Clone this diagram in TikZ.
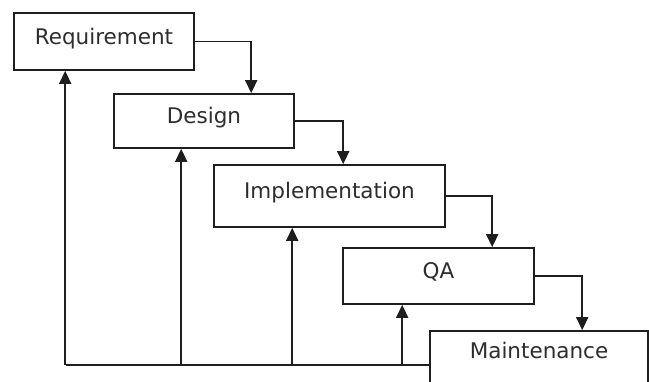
\documentclass[tikz,border=0pt]{standalone}
\usepackage{fontspec}
\setmainfont{DejaVu Sans}
\usetikzlibrary{arrows.meta}
\definecolor{ink}{RGB}{30,30,30}
\definecolor{txt}{RGB}{45,45,45}
\begin{document}
\begin{tikzpicture}[x=1pt,y=-1pt,
  phase/.style={draw=ink, line width=1.6pt, fill=white, inner sep=0pt,
    font=\fontsize{21.5}{24}\selectfont, text=txt, text height=14pt, text depth=8.3pt},
  link/.style={draw=ink, line width=1.6pt},
  arr/.style={link, -{Triangle[width=12pt,length=13pt]}}]
\useasboundingbox (0,0) rectangle (649,382);
\clip (0,0) rectangle (649,382);
\fill[white] (0,0) rectangle (649,382);
\node[phase, minimum width=180pt, minimum height=57pt] (req) at (104,41.5) {Requirement};
\node[phase, minimum width=180pt, minimum height=54pt] (des) at (204,121) {Design};
\node[phase, minimum width=231pt, minimum height=62pt] (imp) at (329.5,196) {Implementation};
\node[phase, minimum width=191pt, minimum height=56pt] (qa) at (438.5,276) {QA};
\node[phase, minimum width=218pt, minimum height=70pt, text height=8pt, text depth=22.3pt] (mnt) at (539,366) {Maintenance};
% forward flow
\draw[arr] (req.east) -| ([xshift=138pt]des.north west);
\draw[arr] (des.east) -| ([xshift=130pt]imp.north west);
\draw[arr] (imp.east) -| ([xshift=150pt]qa.north west);
\draw[arr] (qa.east) -| ([xshift=153pt]mnt.north west);
% feedback
\coordinate (fb) at (66,365);
\coordinate (f1) at ([xshift=52pt]req.south west);
\coordinate (f2) at ([xshift=68pt]des.south west);
\coordinate (f3) at ([xshift=79pt]imp.south west);
\coordinate (f4) at ([xshift=60pt]qa.south west);
\draw[link] (fb) -- (fb -| mnt.west);
\draw[arr] (f1 |- fb) -- (f1);
\draw[arr] (f2 |- fb) -- (f2);
\draw[arr] (f3 |- fb) -- (f3);
\draw[arr] (f4 |- fb) -- (f4);
\end{tikzpicture}
\end{document}
